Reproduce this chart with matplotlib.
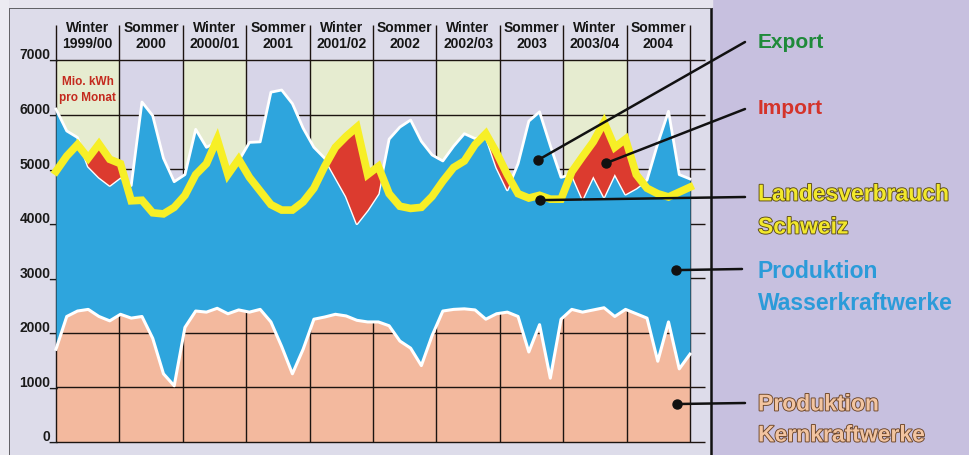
import numpy as np
import matplotlib.pyplot as plt
import matplotlib.patheffects as pe
from matplotlib.patches import Rectangle

plt.rcParams['font.family'] = ['Liberation Sans', 'DejaVu Sans']

# Halbjahre (Spaltenköpfe)
seasons = ["Winter\n1999/00", "Sommer\n2000", "Winter\n2000/01", "Sommer\n2001",
           "Winter\n2001/02", "Sommer\n2002", "Winter\n2002/03", "Sommer\n2003",
           "Winter\n2003/04", "Sommer\n2004"]

# Mio. kWh pro Monat, Okt 1999 - Sep 2004
kernkraft = [1700, 2300, 2400, 2430, 2300, 2220, 2340, 2270, 2300, 1900,
             1250, 1030, 2100, 2400, 2380, 2450, 2350, 2420, 2380, 2430,
             2200, 1750, 1250, 1700, 2250, 2290, 2340, 2310, 2230, 2200,
             2200, 2130, 1850, 1720, 1400, 1950, 2400, 2430, 2440, 2420,
             2250, 2350, 2380, 2300, 1650, 2150, 1170, 2250, 2430, 2380,
             2420, 2460, 2300, 2430, 2350, 2270, 1480, 2200, 1340, 1610]

produktion = [6100, 5700, 5580, 5050, 4850, 4700, 4850, 4700, 6230, 5980,
              5200, 4770, 4900, 5730, 5400, 5500, 4950, 5150, 5490, 5500,
              6410, 6450, 6200, 5750, 5400, 5200, 4850, 4500, 4000, 4250,
              4550, 5550, 5770, 5900, 5510, 5260, 5150, 5420, 5650, 5560,
              5600, 5030, 4620, 5100, 5880, 6050, 5430, 4850, 4900, 4450,
              4870, 4490, 4910, 4540, 4650, 4800, 5470, 6060, 4900, 4820]

verbrauch = [4960, 5240, 5450, 5200, 5460, 5180, 5100, 4420, 4430, 4200,
             4180, 4300, 4520, 4900, 5100, 5550, 4900, 5180, 4850, 4600,
             4350, 4250, 4250, 4400, 4650, 5050, 5400, 5600, 5770, 4900,
             5050, 4550, 4320, 4280, 4300, 4500, 4780, 5030, 5150, 5450,
             5650, 5300, 4900, 4550, 4470, 4520, 4450, 4450, 4950, 5230,
             5500, 5860, 5400, 5550, 4900, 4650, 4550, 4490, 4580, 4670]

y_ticks = [0, 1000, 2000, 3000, 4000, 5000, 6000, 7000]

W, H = 970, 456


def fx(px):
    return px / W


def fy(py):
    return 1 - py / H


fig = plt.figure(figsize=(9.7, 4.56), dpi=100)
fig.patch.set_facecolor('#c7c0df')
fig.patches.append(Rectangle((0, fy(8)), fx(712), 8 / H, color='#e6e4ee',
                             transform=fig.transFigure, zorder=0))
fig.patches.append(Rectangle((0, 0), fx(8), 1, color='#ecebf2',
                             transform=fig.transFigure, zorder=0))

ax = fig.add_axes([fx(8), 0, fx(711) - fx(8), fy(8)])
ax.set_facecolor('#dddcea')
px_per_month = (690 - 56) / 60
px_per_unit = (443 - 61) / 7000
ax.set_xlim((8 - 56) / px_per_month, (711 - 56) / px_per_month)
ax.set_ylim(-(456 - 443) / px_per_unit, (443 - 8) / px_per_unit)
ax.set_xticks([])
ax.set_yticks([])
for s in ['left', 'top', 'right']:
    ax.spines[s].set_linewidth(1.8)
    ax.spines[s].set_color('#111111')
ax.spines['bottom'].set_visible(False)

n = len(produktion)
x = np.linspace(0, 60, n)
kern = np.array(kernkraft)
prod = np.array(produktion)
verb = np.array(verbrauch)

# Spaltenhintergründe
for k, s in enumerate(seasons):
    col = '#e6ecd0' if s.startswith('Winter') else '#d7d5e8'
    ax.fill_between([6 * k, 6 * k + 6], 0, 7000, color=col, lw=0, zorder=0)
    first, second = s.split('\n')
    ax.text(6 * k + 3, 7610, first, ha='center', va='center', fontsize=10,
            fontweight='bold', color='#151515')
    ax.text(6 * k + 3, 7310, second, ha='center', va='center', fontsize=10,
            fontweight='bold', color='#151515')

# Raster
ax.hlines(y_ticks, 0, 61.4, colors='#1c1410', lw=1.0, zorder=2)
ax.vlines([6 * k for k in range(len(seasons) + 1)], 0, 7650,
          colors='#1c1410', lw=1.0, zorder=2)
for v in y_ticks:
    ax.text(0.2, v + 35, f'{v}_', ha='right', va='baseline', fontsize=10,
            fontweight='bold', color='#1a1a1a')

# Flächen
ax.fill_between(x, 0, kern, color='#f3b99e', lw=0, zorder=1)
ax.fill_between(x, kern, prod, color='#2ea5dd', lw=0, zorder=3)
ax.plot(x, prod, color='white', lw=2.0, zorder=3.1)
ax.fill_between(x, prod, verb, where=prod < verb, interpolate=True,
                color='#dc3b2f', lw=0, zorder=3.2)
ax.plot(x, kern, color='white', lw=2.2, zorder=3.5)
ax.plot(x, verb, color='#f7ef26', lw=5.5, zorder=4, solid_joinstyle='miter')

ax.text(3.0, 6620, 'Mio. kWh', ha='center', va='center', fontsize=8.5,
        fontweight='bold', color='#c42a1e', zorder=5)
ax.text(3.0, 6320, 'pro Monat', ha='center', va='center', fontsize=8.5,
        fontweight='bold', color='#c42a1e', zorder=5)

# Legende rechts mit Hinweislinien
anchors = [(45.6, 5165), (52.05, 5110), (45.8, 4432), (58.67, 3150), (58.77, 696)]
line_ends = [(745, 43), (745, 110), (745, 198), (742, 270), (745, 404)]
for (mx, my), (ex, ey) in zip(anchors, line_ends):
    ax.annotate('', xy=(mx, my), xycoords='data', xytext=(fx(ex), fy(ey)),
                textcoords='figure fraction', annotation_clip=False,
                arrowprops=dict(arrowstyle='-', color='#111111', lw=1.8,
                                shrinkA=0, shrinkB=0), zorder=6)
    ax.plot(mx, my, 'o', color='#111111', ms=6.5, zorder=7)

outline_y = [pe.withStroke(linewidth=1.3, foreground='#5a4b18')]
outline_k = [pe.withStroke(linewidth=1.3, foreground='#6b4427')]
fig.text(fx(758), fy(43), 'Export', color='#1f8a3a', fontsize=15,
         fontweight='bold', va='center')
fig.text(fx(758), fy(109), 'Import', color='#d4332a', fontsize=15,
         fontweight='bold', va='center')
fig.text(fx(758), fy(195), 'Landesverbrauch', color='#f2e82c', fontsize=16.5,
         fontweight='bold', va='center', path_effects=outline_y)
fig.text(fx(758), fy(228), 'Schweiz', color='#f2e82c', fontsize=16.5,
         fontweight='bold', va='center', path_effects=outline_y)
fig.text(fx(758), fy(272), 'Produktion', color='#2b9bd9', fontsize=16.5,
         fontweight='bold', va='center')
fig.text(fx(758), fy(304), 'Wasserkraftwerke', color='#2b9bd9', fontsize=16.5,
         fontweight='bold', va='center')
fig.text(fx(758), fy(405), 'Produktion', color='#f2c4a0', fontsize=16.5,
         fontweight='bold', va='center', path_effects=outline_k)
fig.text(fx(758), fy(436), 'Kernkraftwerke', color='#f2c4a0', fontsize=16.5,
         fontweight='bold', va='center', path_effects=outline_k)

fig.savefig('out.png', dpi=100, facecolor=fig.get_facecolor())
